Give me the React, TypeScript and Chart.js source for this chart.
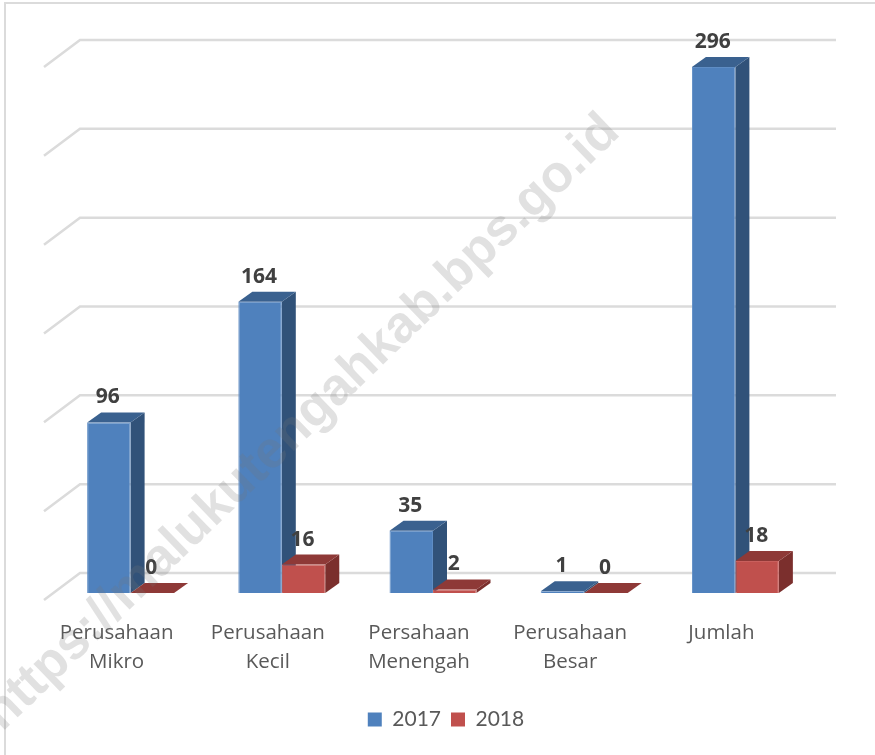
import React, { useEffect, useRef } from "react";
import { Chart, registerables } from "chart.js";

Chart.register(...registerables);

const categories = [
  ["Perusahaan", "Mikro"],
  ["Perusahaan", "Kecil"],
  ["Persahaan", "Menengah"],
  ["Perusahaan", "Besar"],
  ["Jumlah"],
];
const values2017 = [96, 164, 35, 1, 296];
const values2018 = [0, 16, 2, 0, 18];
const seriesNames = ["2017", "2018"];
const watermark = "https://malukutengahkab.bps.go.id";

const FRONT = ["#4F81BD", "#C0504D"];
const EDGE = ["#5F8DC4", "#C9605D"];
const TOP = ["#3A618F", "#8E3937"];
const SIDE = ["#315279", "#7B2F2D"];
const GRID = "#DBDBDB";
const DX = 14;
const DY = 10;

const depthPlugin = {
  id: "depth",
  beforeDraw(chart: any) {
    const { ctx } = chart;
    ctx.save();
    ctx.strokeStyle = GRID;
    ctx.lineWidth = 2;
    ctx.beginPath();
    ctx.moveTo(5, 755);
    ctx.lineTo(5, 3);
    ctx.lineTo(875, 3);
    ctx.stroke();
    ctx.restore();
  },
  beforeDatasetsDraw(chart: any) {
    const { ctx, scales } = chart;
    ctx.save();
    ctx.strokeStyle = GRID;
    ctx.lineWidth = 2.5;
    scales.y.ticks.forEach((t: any) => {
      const y = scales.y.getPixelForValue(t.value);
      ctx.beginPath();
      ctx.moveTo(44, y + 7);
      ctx.lineTo(80, y - 20);
      ctx.lineTo(836, y - 20);
      ctx.stroke();
    });
    chart.data.datasets.forEach((_: any, d: number) => {
      chart.getDatasetMeta(d).data.forEach((bar: any) => {
        const l = bar.x - bar.width / 2;
        const r = bar.x + bar.width / 2;
        const t = bar.y;
        const b = bar.base;
        ctx.fillStyle = SIDE[d];
        ctx.beginPath();
        ctx.moveTo(r, t);
        ctx.lineTo(r + DX, t - DY);
        ctx.lineTo(r + DX, b - DY);
        ctx.lineTo(r, b);
        ctx.closePath();
        ctx.fill();
        ctx.fillStyle = TOP[d];
        ctx.beginPath();
        ctx.moveTo(l, t);
        ctx.lineTo(l + DX, t - DY);
        ctx.lineTo(r + DX, t - DY);
        ctx.lineTo(r, t);
        ctx.closePath();
        ctx.fill();
      });
    });
    ctx.restore();
  },
  afterDatasetsDraw(chart: any) {
    const { ctx } = chart;
    ctx.save();
    ctx.font = "bold 21px 'Open Sans'";
    ctx.fillStyle = "#404040";
    ctx.textAlign = "center";
    ctx.textBaseline = "middle";
    chart.data.datasets.forEach((ds: any, d: number) => {
      chart.getDatasetMeta(d).data.forEach((bar: any, i: number) => {
        ctx.fillText(String(ds.data[i]), bar.x - 1, bar.y - 25);
      });
    });
    ctx.restore();
  },
  afterDraw(chart: any) {
    const { ctx } = chart;
    ctx.save();
    ctx.translate(302, 423);
    ctx.rotate((-44 * Math.PI) / 180);
    ctx.font = "bold 52px 'Liberation Sans'";
    ctx.fillStyle = "rgba(120,120,120,0.22)";
    ctx.textAlign = "center";
    ctx.textBaseline = "middle";
    ctx.fillText(watermark, 0, 0);
    ctx.restore();
  },
};

export default function App() {
  const ref = useRef<HTMLCanvasElement>(null);
  useEffect(() => {
    const chart = new Chart(ref.current as HTMLCanvasElement, {
      type: "bar",
      data: {
        labels: categories as any,
        datasets: [
          { label: seriesNames[0], data: values2017, backgroundColor: FRONT[0], borderColor: EDGE[0], borderWidth: 1 },
          { label: seriesNames[1], data: values2018, backgroundColor: FRONT[1], borderColor: EDGE[1], borderWidth: 1 },
        ],
      },
      plugins: [depthPlugin],
      options: {
        responsive: false,
        animation: false,
        layout: { padding: { left: 17, right: 0, top: 60, bottom: 15 } },
        datasets: { bar: { categoryPercentage: 0.575, barPercentage: 1 } },
        plugins: {
          tooltip: { enabled: false },
          legend: {
            position: "bottom",
            labels: {
              generateLabels: (chart: any) =>
                chart.data.datasets.map((ds: any, i: number) => ({
                  text: ds.label,
                  fillStyle: FRONT[i],
                  strokeStyle: FRONT[i],
                  fontColor: "#595959",
                  lineWidth: 0,
                  datasetIndex: i,
                })),
              boxWidth: 14,
              boxHeight: 14,
              padding: 10,
              color: "#595959",
              font: { family: "Lato", size: 21 },
            },
          },
        },
        scales: {
          x: {
            grid: { display: false },
            border: { display: false },
            ticks: {
              color: "#595959",
              font: { family: "Open Sans", size: 20.5, lineHeight: 1.41 },
              padding: 18,
              labelOffset: -14,
              maxRotation: 0,
              autoSkip: false,
            },
            afterFit(s: any) {
              s.height = 106;
            },
          },
          y: {
            min: 0,
            max: 300,
            ticks: { stepSize: 50, display: false },
            grid: { display: false },
            border: { display: false },
            afterFit(s: any) {
              s.width = 38;
            },
          },
          yRight: {
            position: "right",
            min: 0,
            max: 300,
            ticks: { display: false },
            grid: { display: false },
            border: { display: false },
            afterFit(s: any) {
              s.width = 64;
            },
          },
        },
      } as any,
    });
    return () => chart.destroy();
  }, []);
  return (
    <div style={{ position: "absolute", left: 0, top: 0, width: 875, height: 755, background: "#fff" }}>
      <canvas ref={ref} width={875} height={755} style={{ display: "block" }} />
    </div>
  );
}
